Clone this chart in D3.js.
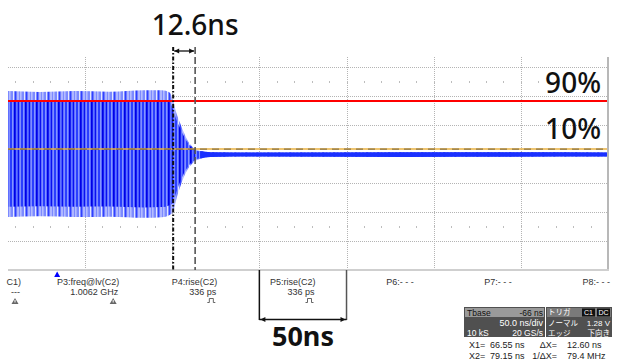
<!DOCTYPE html>
<html>
<head>
<meta charset="utf-8">
<script src="https://cdn.jsdelivr.net/npm/d3@7"></script>
<style>
  html, body { margin: 0; padding: 0; background: #fff; }
  svg { display: block; }
</style>
</head>
<body>
<figure id="scope" style="margin:0"></figure>
<script>
// envelope of the burst, time in ns, amplitude in divisions
const envTime  = [-28.2, -10, 10, 30, 50, 60, 64.5, 66.5, 68.2, 70.5, 72.8, 75, 78, 82, 88, 120, 200, 316];
const envUpper = [2.17, 2.14, 2.17, 2.15, 2.2, 2.2, 2.12, 1.83, 1.45, 1.07, 0.72, 0.45, 0.22, 0.1, 0.06, 0.05, 0.06, 0.05];
const envLower = [-2.17, -2.15, -2.17, -2.16, -2.2, -2.18, -2.1, -2.0, -1.6, -1.15, -0.78, -0.52, -0.3, -0.16, -0.1, -0.09, -0.1, -0.09];

const level90 = 1.83;
const level10 = 0.17;
const cursorX1 = 66.55;
const cursorX2 = 79.15;

const gridTimes = [16, 66, 116, 166, 216, 266, 316];
const gridDivs = [-3, -2, -1, 0, 1, 2, 3];
const minorDivs = [-2.5, 2.5];
const spanStart = 116;
const spanEnd = 166;

const paramNames = ['C1)', 'P3:freq@lv(C2)', 'P4:rise(C2)', 'P5:rise(C2)', 'P6:- - -', 'P7:- - -', 'P8:- - -'];
const paramValues = ['---', '1.0062 GHz', '336 ps', '336 ps', '', '', ''];
const paramIcons = ['warn', 'warn', 'edge', 'edge', '', '', ''];

const width = 618;
const height = 362;

const x = d3.scaleLinear().domain([-28.2, 316]).range([8, 608]);
const y = d3.scaleLinear().domain([-4, 4]).range([270, 38]);
const plotTop = 57;

const svg = d3.select('#scope')
  .append('svg')
  .attr('width', width)
  .attr('height', height)
  .style('font-family', '"Liberation Sans", Arial, sans-serif');

const defs = svg.append('defs');
defs.append('clipPath').attr('id', 'plotClip')
  .append('rect')
  .attr('x', x.range()[0]).attr('y', plotTop)
  .attr('width', x.range()[1] - x.range()[0]).attr('height', y(-4) - plotTop);

// stripe patterns for the dense 1 GHz trace
const light = defs.append('pattern').attr('id', 'sigLight')
  .attr('patternUnits', 'userSpaceOnUse').attr('width', 11).attr('height', 10);
light.append('rect').attr('width', 11).attr('height', 10).attr('fill', '#7c8aff');
[[2, 1, '#e4e8ff'], [6.5, 1, '#dfe3ff'], [9.5, 0.8, '#eef0ff'], [4, 1.2, '#3040ff']].forEach(s => {
  light.append('rect').attr('x', s[0]).attr('width', s[1]).attr('height', 10).attr('fill', s[2]);
});
const dark = defs.append('pattern').attr('id', 'sigDark')
  .attr('patternUnits', 'userSpaceOnUse').attr('width', 11).attr('height', 10);
dark.append('rect').attr('width', 11).attr('height', 10).attr('fill', '#2a3eff');
[[1, 1.5, '#8494ff'], [3, 1.5, '#0000e6'], [5.2, 1.2, '#7080ff'], [8.5, 1.3, '#94a0ff'], [7, 1, '#0a10f0']].forEach(s => {
  dark.append('rect').attr('x', s[0]).attr('width', s[1]).attr('height', 10).attr('fill', s[2]);
});

const plot = svg.append('g').attr('clip-path', 'url(#plotClip)');

// grid
plot.selectAll('.hgrid').data(gridDivs).enter().append('line')
  .attr('x1', x.range()[0]).attr('x2', x.range()[1])
  .attr('y1', d => Math.round(y(d)) + 0.5).attr('y2', d => Math.round(y(d)) + 0.5)
  .attr('stroke', '#b4b4b4').attr('stroke-width', 1).attr('stroke-dasharray', '1,1');
plot.selectAll('.vgrid').data(gridTimes.slice(0, -1)).enter().append('line')
  .attr('x1', d => Math.round(x(d)) + 0.5).attr('x2', d => Math.round(x(d)) + 0.5)
  .attr('y1', plotTop).attr('y2', y(-4))
  .attr('stroke', '#b4b4b4').attr('stroke-width', 1).attr('stroke-dasharray', '1,1');

// minor ticks every 1/5 div
const minorTimes = d3.range(gridTimes[0] - 50, gridTimes[gridTimes.length - 1], 10);
minorDivs.forEach(dv => {
  plot.selectAll(null).data(minorTimes).enter().append('rect')
    .attr('x', d => Math.round(x(d))).attr('y', Math.round(y(dv)) - 1)
    .attr('width', 1).attr('height', 2).attr('fill', '#bdbdbd');
});

// frame: right edge and bottom edge
svg.append('line')
  .attr('x1', x(316)).attr('x2', x(316)).attr('y1', plotTop).attr('y2', y(-4))
  .attr('stroke', '#b8b8b8').attr('stroke-width', 2);
svg.append('line')
  .attr('x1', x.range()[0]).attr('x2', x.range()[1] + 1).attr('y1', y(-4)).attr('y2', y(-4))
  .attr('stroke', '#cfcfcf').attr('stroke-width', 2);

// trace
const env = envTime.map((t, i) => ({ t: t, hi: envUpper[i], lo: envLower[i] }));
const area = d3.area().x(d => x(d.t)).y0(d => y(d.lo)).y1(d => y(d.hi)).curve(d3.curveMonotoneX);
const innerArea = d3.area().x(d => x(d.t))
  .y0(d => y(d.lo * 0.84)).y1(d => y(d.hi * 0.84)).curve(d3.curveMonotoneX);
plot.append('path').datum(env).attr('d', area).attr('fill', 'url(#sigLight)');
plot.append('path').datum(env).attr('d', innerArea).attr('fill', 'url(#sigDark)');
plot.append('path').datum(env.filter(d => d.t >= 82)).attr('d', area)
  .attr('fill', '#1a30ff');

// level lines
plot.append('line')
  .attr('x1', x.range()[0]).attr('x2', x.range()[1])
  .attr('y1', y(level90)).attr('y2', y(level90))
  .attr('stroke', '#ff0000').attr('stroke-width', 2);
plot.append('line')
  .attr('x1', x.range()[0]).attr('x2', x.range()[1])
  .attr('y1', y(level10)).attr('y2', y(level10))
  .attr('stroke', '#e8b040').attr('stroke-width', 1.6);
plot.append('line')
  .attr('x1', x.range()[0]).attr('x2', x.range()[1])
  .attr('y1', y(level10)).attr('y2', y(level10))
  .attr('stroke', '#6a5a3a').attr('stroke-width', 1.2).attr('stroke-dasharray', '7,5')
  .attr('opacity', 0.75);

// cursors
const cursorTop = 47;
svg.append('line')
  .attr('x1', x(cursorX1)).attr('x2', x(cursorX1)).attr('y1', cursorTop).attr('y2', y(-4))
  .attr('stroke', '#111').attr('stroke-width', 2).attr('stroke-dasharray', '4,2,1.5,2');
svg.append('line')
  .attr('x1', x(cursorX2)).attr('x2', x(cursorX2)).attr('y1', cursorTop).attr('y2', y(-4))
  .attr('stroke', '#555').attr('stroke-width', 1.6).attr('stroke-dasharray', '7,3');

function arrowHead(g, px, py, dir) {
  g.append('path')
    .attr('d', `M${px},${py} l${-dir * 5},-2.5 l0,5 z`)
    .attr('fill', '#111');
}

// 12.6ns arrow
const topArrow = svg.append('g');
topArrow.append('line')
  .attr('x1', x(cursorX1) + 1).attr('x2', x(cursorX2) - 1).attr('y1', 51).attr('y2', 51)
  .attr('stroke', '#111').attr('stroke-width', 1.3);
arrowHead(topArrow, x(cursorX1) + 1, 51, -1);
arrowHead(topArrow, x(cursorX2) - 1, 51, 1);
svg.append('text')
  .attr('x', x(cursorX2)).attr('y', 35)
  .attr('text-anchor', 'middle')
  .style('font-family', '"Noto Sans", sans-serif').style('font-size', '28px').style('font-weight', 500)
  .attr('fill', '#111').text('12.6ns');

// level labels
svg.append('text').attr('x', 601).attr('y', 93).attr('text-anchor', 'end')
  .style('font-family', '"Noto Sans", sans-serif').style('font-size', '28px').style('font-weight', 500)
  .attr('fill', '#111').text('90%');
svg.append('text').attr('x', 601).attr('y', 139).attr('text-anchor', 'end')
  .style('font-family', '"Noto Sans", sans-serif').style('font-size', '28px').style('font-weight', 500)
  .attr('fill', '#111').text('10%');

// parameter readouts
const pcol = d3.scalePoint().domain(paramNames).range([21, 610]);
const params = svg.append('g').attr('fill', '#333').style('font-size', '9px');
params.selectAll('.pname').data(paramNames).enter().append('text')
  .attr('x', d => pcol(d)).attr('y', 285).attr('text-anchor', 'end').text(d => d);
params.selectAll('.pval').data(paramValues).enter().append('text')
  .attr('x', (d, i) => pcol(paramNames[i]) - 1).attr('y', 295).attr('text-anchor', 'end').text(d => d);
paramIcons.forEach((ic, i) => {
  const cx = pcol(paramNames[i]) - 6;
  if (ic === 'warn') {
    params.append('path').attr('d', `M${cx - 3.5},304 L${cx},298 L${cx + 3.5},304 Z`)
      .attr('fill', '#666');
    params.append('rect').attr('x', cx - 0.5).attr('y', 300).attr('width', 1).attr('height', 2.5).attr('fill', '#fff');
  } else if (ic === 'edge') {
    params.append('path').attr('d', `M${cx - 4},302.5 L${cx - 2},302.5 L${cx - 2},298.5 L${cx + 2},298.5 L${cx + 2},302.5 L${cx + 4},302.5`)
      .attr('fill', 'none').attr('stroke', '#555').attr('stroke-width', 0.9);
  }
});

// trigger marker
svg.append('path')
  .attr('d', `M${x(0) - 3},277 L${x(0)},271.5 L${x(0) + 3},277 Z`)
  .attr('fill', '#0000ff');

// 50ns span bracket
const span = svg.append('g');
span.append('line').attr('x1', x(spanStart)).attr('x2', x(spanStart)).attr('y1', y(-4)).attr('y2', 320)
  .attr('stroke', '#111').attr('stroke-width', 1.5);
span.append('line').attr('x1', x(spanEnd)).attr('x2', x(spanEnd)).attr('y1', y(-4)).attr('y2', 320)
  .attr('stroke', '#555').attr('stroke-width', 1.5);
span.append('line').attr('x1', x(spanStart)).attr('x2', x(spanEnd)).attr('y1', 319.5).attr('y2', 319.5)
  .attr('stroke', '#111').attr('stroke-width', 1.3);
arrowHead(span, x(spanStart) + 1, 319.5, -1);
arrowHead(span, x(spanEnd) - 1, 319.5, 1);
svg.append('text')
  .attr('x', (x(spanStart) + x(spanEnd)) / 2).attr('y', 346)
  .attr('text-anchor', 'middle')
  .style('font-family', '"Noto Sans", sans-serif').style('font-size', '27px').style('font-weight', 700)
  .attr('fill', '#111').text('50ns');

// timebase / trigger boxes
const info = svg.append('g').style('font-size', '9px');
info.append('rect').attr('x', 464).attr('y', 307).attr('width', 81).attr('height', 30).attr('fill', '#505050');
info.append('rect').attr('x', 465).attr('y', 308).attr('width', 79).attr('height', 9).attr('fill', '#9a9a9a');
info.append('rect').attr('x', 546).attr('y', 307).attr('width', 66).attr('height', 30).attr('fill', '#505050');
info.append('rect').attr('x', 547).attr('y', 308).attr('width', 64).attr('height', 9).attr('fill', '#7a7a7a');
info.append('rect').attr('x', 582).attr('y', 308.5).attr('width', 13).attr('height', 8).attr('fill', '#111');
info.append('rect').attr('x', 597).attr('y', 308.5).attr('width', 13).attr('height', 8).attr('fill', '#111');

const infoText = [
  ['Tbase', 467, 315.5, 'start', '#111', 8.5], ['-66 ns', 543, 315.5, 'end', '#111', 8.5],
  ['50.0 ns/div', 543, 326, 'end', '#fff', 9],
  ['10 kS', 467, 335.5, 'start', '#fff', 8.5], ['20 GS/s', 543, 335.5, 'end', '#fff', 8.5],
  ['C1', 588.5, 315, 'middle', '#fff', 7], ['DC', 603.5, 315, 'middle', '#fff', 7],
  ['1.28 V', 610, 326, 'end', '#fff', 8]
];
infoText.forEach(t => {
  info.append('text').attr('x', t[1]).attr('y', t[2]).attr('text-anchor', t[3]).attr('fill', t[4])
    .style('font-size', t[5] + 'px').text(t[0]);
});
const jpText = [['トリガ', 548, 315, 'start'], ['ノーマル', 548, 325.5, 'start'],
  ['エッジ', 548, 335.5, 'start'], ['下向き', 610, 335.5, 'end']];
jpText.forEach(t => {
  info.append('text').attr('x', t[1]).attr('y', t[2]).attr('text-anchor', t[3])
    .attr('fill', '#fff').style('font-family', '"Noto Sans CJK JP", sans-serif').style('font-size', '7.5px')
    .text(t[0]);
});

const readout = svg.append('g').attr('fill', '#222').style('font-size', '9px');
readout.append('text').attr('x', 469).attr('y', 348).text('X1=');
readout.append('text').attr('x', 490).attr('y', 348).text(cursorX1.toFixed(2) + ' ns');
readout.append('text').attr('x', 557).attr('y', 348).attr('text-anchor', 'end').text('ΔX=');
readout.append('text').attr('x', 567).attr('y', 348).text((cursorX2 - cursorX1).toFixed(2) + ' ns');
readout.append('text').attr('x', 469).attr('y', 359).text('X2=');
readout.append('text').attr('x', 490).attr('y', 359).text(cursorX2.toFixed(2) + ' ns');
readout.append('text').attr('x', 557).attr('y', 359).attr('text-anchor', 'end').text('1/ΔX=');
readout.append('text').attr('x', 567).attr('y', 359)
  .text((1000 / (cursorX2 - cursorX1)).toFixed(1) + ' MHz');
</script>
</body>
</html>
